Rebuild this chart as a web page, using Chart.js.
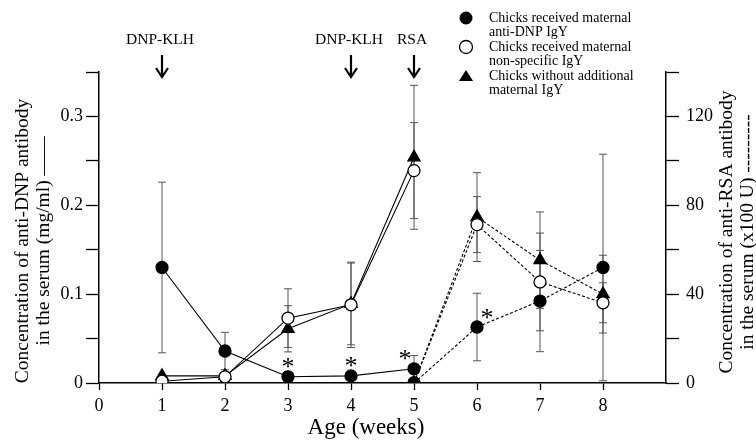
<!DOCTYPE html>
<html>
<head>
<meta charset="utf-8">
<script src="https://cdn.jsdelivr.net/npm/chart.js@4/dist/chart.umd.min.js"></script>
<style>
  html, body { margin: 0; padding: 0; background: #fff; }
  #chart { display: block; }
</style>
</head>
<body>
<canvas id="chart" width="756" height="440"></canvas>
<script>
// DATA
const dnpWeeks = [1, 2, 3, 4, 5];
const rsaWeeks = [5, 6, 7, 8];

// anti-DNP (mg/ml), left axis
const dnpAnti = [0.130, 0.036, 0.007, 0.008, 0.016];
const dnpAntiErr = [0.096, 0.021, 0.006, 0.004, 0.015];
const dnpNonspec = [0.002, 0.007, 0.073, 0.088, 0.239];
const dnpNonspecErr = [0, 0, 0.033, 0.048, 0.054];
const dnpNone = [0.008, 0.008, 0.061, 0.089, 0.254];
const dnpNoneErr = [0, 0, 0.026, 0.046, 0.081];

// anti-RSA (x100 U), right axis
const rsaAnti = [0, 25.2, 36.9, 52.0];
const rsaAntiErr = [0, 15.2, 22.8, 51];
const rsaNonspec = [0, 71.3, 45.5, 36.1];
const rsaNonspecErr = [0, 12.6, 22, 9];
const rsaNone = [0, 74.7, 55.3, 40];
const rsaNoneErr = [0, 20, 21.7, 17.5];

const xTicks = [0, 1, 2, 3, 4, 5, 6, 7, 8];
const leftLabels = [0, 0.1, 0.2, 0.3];
const rightLabels = [0, 40, 80, 120];

// immunisations
const shotWeeks = [1, 4, 5];
const shotNames = ["DNP-KLH", "DNP-KLH", "RSA"];

// significant differences (*)
const sigDnpWeeks = [3, 4, 5];
const sigRsaWeeks = [6];

const legendNames = [
    ["Chicks received maternal", "anti-DNP IgY"],
    ["Chicks received maternal", "non-specific IgY"],
    ["Chicks without additional", "maternal IgY"]
];

const SERIF = "'Liberation Serif', 'Times New Roman', serif";

function pts(weeks, vals) {
    return weeks.map((w, i) => ({ x: w, y: vals[i] }));
}

function series(weeks, vals, errs, axis, kind, dashed) {
    const style = {
        filled: { pointStyle: "circle", radius: 6, bg: "#000" },
        open: { pointStyle: "circle", radius: 6, bg: "#fff" },
        tri: { pointStyle: "triangle", radius: 7, bg: "#000" }
    }[kind];
    return {
        data: pts(weeks, vals),
        errors: errs,
        yAxisID: axis,
        borderColor: "#000",
        borderWidth: 1.1,
        borderDash: dashed ? [3, 2] : [],
        pointStyle: style.pointStyle,
        pointRadius: style.radius,
        pointBackgroundColor: style.bg,
        pointBorderColor: "#000",
        pointBorderWidth: 1.3,
        tension: 0,
        fill: false
    };
}

// ERROR BARS
const errorBars = {
    id: "errorBars",
    beforeDatasetsDraw(chart) {
        const ctx = chart.ctx;
        ctx.save();
        ctx.strokeStyle = "#555";
        ctx.lineWidth = 1;
        chart.data.datasets.forEach(ds => {
            const ys = chart.scales[ds.yAxisID];
            ds.data.forEach((p, i) => {
                const e = ds.errors[i];
                if (!e) return;
                const x = chart.scales.x.getPixelForValue(p.x);
                const top = ys.getPixelForValue(p.y + e);
                const bot = ys.getPixelForValue(Math.max(0, p.y - e));
                ctx.beginPath();
                ctx.moveTo(x, top); ctx.lineTo(x, bot);
                ctx.moveTo(x - 4, top); ctx.lineTo(x + 4, top);
                ctx.moveTo(x - 4, bot); ctx.lineTo(x + 4, bot);
                ctx.stroke();
            });
        });
        ctx.restore();
    }
};

// TEXT, ARROWS, LEGEND
const decorations = {
    id: "decorations",
    afterDraw(chart) {
        const ctx = chart.ctx;
        const xs = chart.scales.x, yl = chart.scales.y, yr = chart.scales.y1;
        ctx.save();
        ctx.fillStyle = "#000";
        ctx.strokeStyle = "#000";

        // arrows
        ctx.font = "15.5px " + SERIF;
        ctx.textAlign = "center";
        ctx.textBaseline = "middle";
        shotWeeks.forEach((w, i) => {
            const x = xs.getPixelForValue(w);
            ctx.fillText(shotNames[i], x - 2, 40);
            ctx.lineWidth = 2.2;
            ctx.beginPath();
            ctx.moveTo(x, 55); ctx.lineTo(x, 77);
            ctx.moveTo(x - 6, 68); ctx.lineTo(x, 77); ctx.lineTo(x + 6, 68);
            ctx.stroke();
        });

        // asterisks
        ctx.font = "26px " + SERIF;
        sigDnpWeeks.forEach(w => {
            const v = dnpAnti[dnpWeeks.indexOf(w)];
            const x = xs.getPixelForValue(w), y = yl.getPixelForValue(v);
            const dx = w === 5 ? -9 : 0;
            ctx.fillText("*", x + dx, y - 9);
        });
        sigRsaWeeks.forEach(w => {
            const v = rsaAnti[rsaWeeks.indexOf(w)];
            const x = xs.getPixelForValue(w), y = yr.getPixelForValue(v);
            ctx.fillText("*", x + 10, y - 8);
        });

        // axis titles
        ctx.font = "23px " + SERIF;
        ctx.fillText("Age (weeks)", 366, 428);

        ctx.font = "19.5px " + SERIF;
        ctx.save();
        ctx.translate(23, 241);
        ctx.rotate(-Math.PI / 2);
        ctx.fillText("Concentration of anti-DNP antibody", 0, 0);
        ctx.fillText("in the serum (mg/ml) ——", 0, 21);
        ctx.restore();
        ctx.save();
        ctx.translate(727, 232);
        ctx.rotate(-Math.PI / 2);
        ctx.fillText("Concentration of anti-RSA antibody", 0, 0);
        ctx.fillText("in the serum (x100 U) ---------", 0, 21);
        ctx.restore();

        // legend
        ctx.font = "14px " + SERIF;
        ctx.textAlign = "left";
        const rows = [18, 47, 76];
        rows.forEach((y, i) => {
            ctx.lineWidth = 1.3;
            ctx.beginPath();
            if (i === 2) {
                ctx.moveTo(466, y - 6); ctx.lineTo(473, y + 5); ctx.lineTo(459, y + 5);
                ctx.closePath(); ctx.fill();
            } else {
                ctx.arc(466, y, 6.5, 0, Math.PI * 2);
                if (i === 0) ctx.fill(); else ctx.stroke();
            }
            ctx.fillText(legendNames[i][0], 489, y);
            ctx.fillText(legendNames[i][1], 489, y + 14.5);
        });
        ctx.restore();
    }
};

const tickFont = { family: SERIF, size: 18 };

new Chart(document.getElementById("chart"), {
    type: "line",
    data: {
        datasets: [
            series(dnpWeeks, dnpAnti, dnpAntiErr, "y", "filled", false),
            series(dnpWeeks, dnpNonspec, dnpNonspecErr, "y", "open", false),
            series(dnpWeeks, dnpNone, dnpNoneErr, "y", "tri", false),
            series(rsaWeeks, rsaAnti, rsaAntiErr, "y1", "filled", true),
            series(rsaWeeks, rsaNonspec, rsaNonspecErr, "y1", "open", true),
            series(rsaWeeks, rsaNone, rsaNoneErr, "y1", "tri", true)
        ]
    },
    options: {
        responsive: false,
        animation: false,
        layout: { padding: { top: 72 } },
        plugins: { legend: { display: false }, tooltip: { enabled: false } },
        scales: {
            x: {
                type: "linear",
                min: 0, max: 9,
                afterBuildTicks: s => { s.ticks = xTicks.map(v => ({ value: v })); },
                afterFit: s => { s.height = 57; },
                ticks: { color: "#000", font: tickFont, padding: 5, maxRotation: 0 },
                grid: { drawOnChartArea: false, drawTicks: true, tickLength: 7, tickColor: "#000", tickWidth: 1.3 },
                border: { color: "#000", width: 1.5 }
            },
            y: {
                position: "left",
                min: 0, max: 0.35,
                afterBuildTicks: s => { s.ticks = [0, 0.05, 0.1, 0.15, 0.2, 0.25, 0.3, 0.35].map(v => ({ value: v })); },
                afterFit: s => { s.width = 99; },
                ticks: {
                    color: "#000", font: tickFont, padding: 3,
                    callback: v => {
                        const hit = leftLabels.find(l => Math.abs(l - v) < 1e-6);
                        return hit === undefined ? "" : String(hit);
                    }
                },
                grid: { drawOnChartArea: false, drawTicks: true, tickLength: 13, tickColor: "#000", tickWidth: 1.3 },
                border: { color: "#000", width: 1.5 }
            },
            y1: {
                position: "right",
                min: 0, max: 140,
                afterBuildTicks: s => { s.ticks = [0, 20, 40, 60, 80, 100, 120, 140].map(v => ({ value: v })); },
                afterFit: s => { s.width = 90; },
                ticks: {
                    color: "#000", font: tickFont, padding: 7,
                    callback: v => rightLabels.includes(v) ? String(v) : ""
                },
                grid: { drawOnChartArea: false, drawTicks: true, tickLength: 13, tickColor: "#000", tickWidth: 1.3 },
                border: { color: "#000", width: 1.5 }
            }
        }
    },
    plugins: [errorBars, decorations]
});
</script>
</body>
</html>
